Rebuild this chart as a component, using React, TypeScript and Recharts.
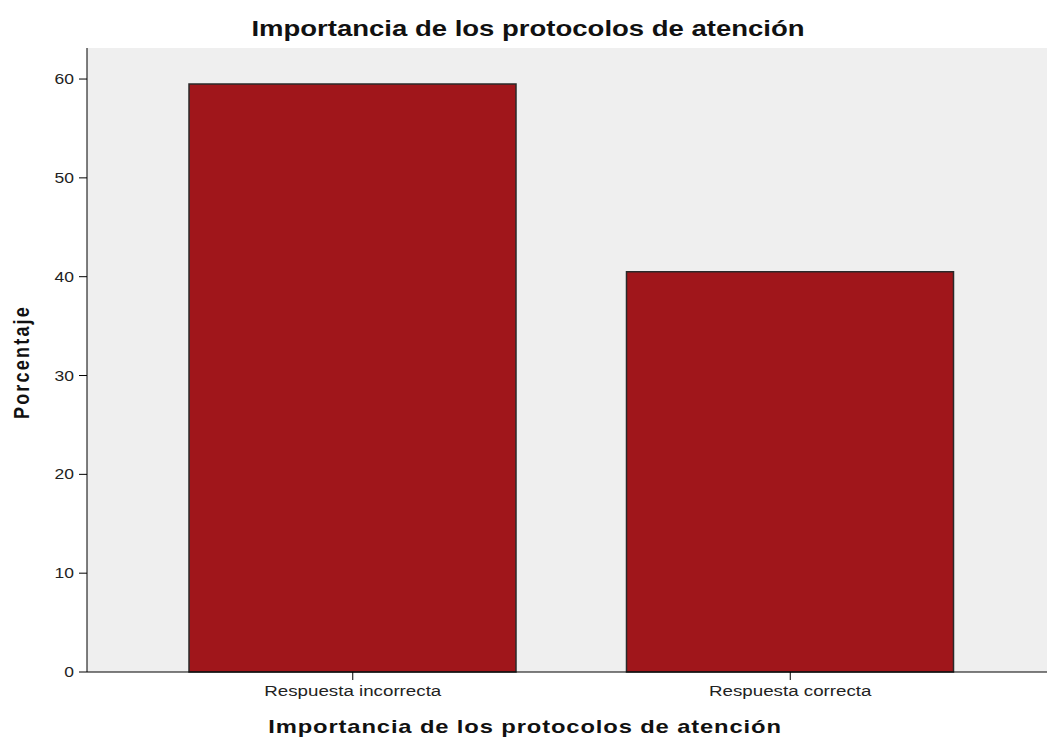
import React from "react";
import { BarChart, Bar, XAxis, YAxis, CartesianGrid } from "recharts";

const categories = ["Respuesta incorrecta", "Respuesta correcta"];
const porcentaje = [59.5, 40.5];
const yTicks = [0, 10, 20, 30, 40, 50, 60];

const title = "Importancia de los protocolos de atención";
const xTitle = "Importancia de los protocolos de atención";
const yTitle = "Porcentaje";

const data = categories.map((name, i) => ({ name, value: porcentaje[i] }));

const FONT = "'Liberation Sans', Arial, sans-serif";
const STRETCH = 1.25;

function XTick({ x, y, payload }: any) {
  return (
    <g transform={`translate(${x},${y}) scale(${STRETCH},1)`}>
      <text textAnchor="middle" dy="0.72em" fontSize={15} fill="#222" fontFamily={FONT}>
        {payload.value}
      </text>
    </g>
  );
}

function YTick({ x, y, payload }: any) {
  return (
    <g transform={`translate(${x},${y}) scale(${STRETCH},1)`}>
      <text textAnchor="end" dy="0.36em" fontSize={14} fill="#222" fontFamily={FONT}>
        {payload.value}
      </text>
    </g>
  );
}

export default function App() {
  return (
    <div
      style={{
        position: "absolute",
        left: 0,
        top: 0,
        width: 1047,
        height: 740,
        overflow: "hidden",
        background: "#fff",
      }}
    >
      <div
        style={{
          position: "absolute",
          top: 16,
          left: 528 - 300,
          width: 600,
          textAlign: "center",
          fontFamily: FONT,
          fontWeight: "bold",
          fontSize: 22,
          lineHeight: "26px",
          color: "#111",
          transform: `scaleX(${STRETCH})`,
          zIndex: 2,
        }}
      >
        {title}
      </div>
      <div
        style={{
          position: "absolute",
          top: 716,
          left: 525 - 300,
          width: 600,
          textAlign: "center",
          fontFamily: FONT,
          fontWeight: "bold",
          fontSize: 19,
          letterSpacing: 0.7,
          lineHeight: "22px",
          color: "#111",
          transform: `scaleX(${STRETCH})`,
          zIndex: 2,
        }}
      >
        {xTitle}
      </div>
      <div
        style={{
          position: "absolute",
          top: 362 - 12,
          left: 21 - 100,
          width: 200,
          height: 24,
          textAlign: "center",
          fontFamily: FONT,
          fontWeight: "bold",
          fontSize: 18,
          letterSpacing: 2.2,
          lineHeight: "24px",
          color: "#111",
          transform: `scaleX(${STRETCH}) rotate(-90deg)`,
          transformOrigin: "center",
          zIndex: 2,
        }}
      >
        {yTitle}
      </div>
      <BarChart
        width={1070}
        height={740}
        data={data}
        margin={{ top: 48, right: 14, left: 0, bottom: 0 }}
      >
        <CartesianGrid fill="#efefef" horizontal={false} vertical={false} />
        <XAxis
          xAxisId="top"
          orientation="top"
          dataKey="name"
          height={0}
          tick={false}
          tickLine={false}
          axisLine={{ stroke: "#777", strokeWidth: 2 }}
        />
        <XAxis
          dataKey="name"
          height={68}
          padding={{ left: 47, right: 47 }}
          tick={<XTick />}
          tickSize={8}
          tickMargin={5}
          axisLine={{ stroke: "#000" }}
          tickLine={{ stroke: "#000" }}
        />
        <YAxis
          width={87}
          domain={[0, 63.14]}
          ticks={yTicks}
          tick={<YTick />}
          tickSize={8}
          tickMargin={5}
          axisLine={{ stroke: "#000" }}
          tickLine={{ stroke: "#000" }}
        />
        <Bar
          dataKey="value"
          xAxisId={0}
          fill="#a0161b"
          stroke="#2a2a2a"
          strokeWidth={1.5}
          barSize={327}
          isAnimationActive={false}
        />
      </BarChart>
    </div>
  );
}
